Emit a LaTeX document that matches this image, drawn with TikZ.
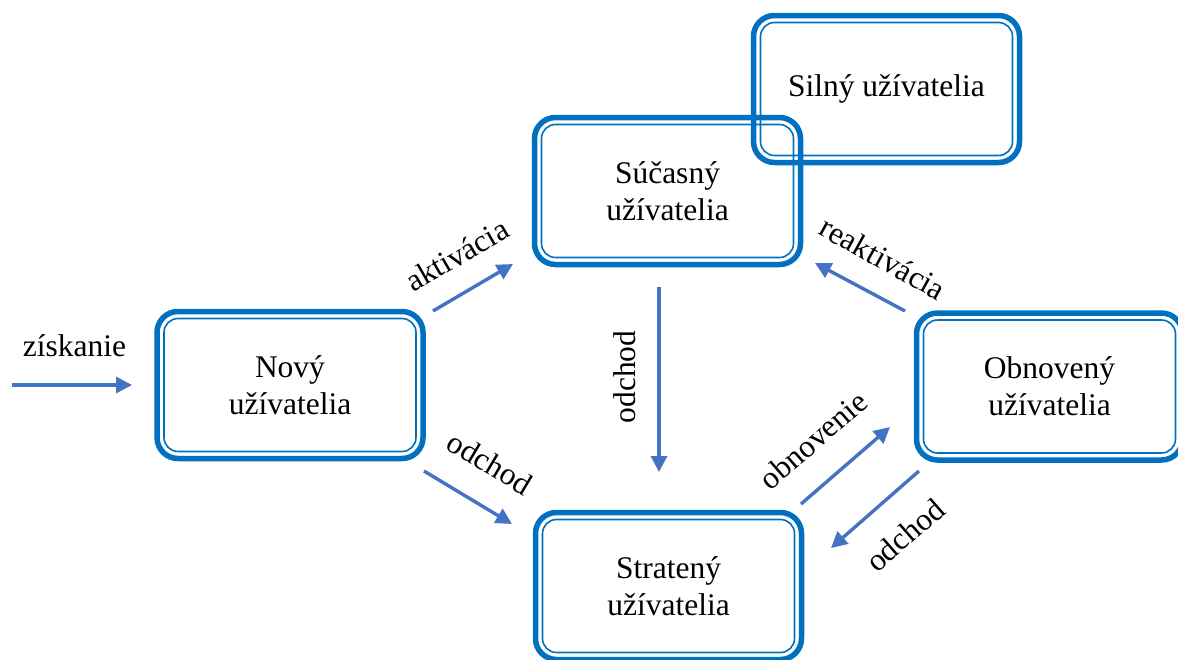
\documentclass[tikz,border=0pt]{standalone}
\usepackage{fontspec}
\setmainfont{Liberation Serif}
\usetikzlibrary{arrows.meta,calc}
\definecolor{boxblue}{HTML}{0070C0}
\definecolor{arrowblue}{HTML}{4472C4}
\tikzset{
  ubox/.style={draw=boxblue, line width=5.5pt, rounded corners=21pt,
    minimum width=266pt, minimum height=147pt, outer sep=0pt,
    align=center, font=\fontsize{31.5}{37}\selectfont},
  uinner/.style={draw=boxblue, line width=1.6pt, rounded corners=14pt},
  flow/.style={draw=arrowblue, line width=3.4pt,
    -{Triangle[length=16pt,width=16pt]}},
  lbl/.style={font=\fontsize{31.5}{37}\selectfont, inner sep=0pt}
}
% a user state: thick outline with a thin inner outline
\newcommand\userbox[3]{%
  \node[ubox] (#1) at (#2) {#3};
  \draw[uinner] ($(#1.south west)+(7pt,7pt)$) rectangle ($(#1.north east)+(-7pt,-7pt)$);
}
\begin{document}
\begin{tikzpicture}[x=1pt,y=-1pt]
\useasboundingbox (0,0) rectangle (1178,659);
\clip (0,0) rectangle (1178,659);

\userbox{silny}{886.5,89}{Silný užívatelia}
\userbox{sucasny}{667.5,191}{Súčasný\\užívatelia}
\userbox{novy}{290,385}{Nový\\užívatelia}
\userbox{strateny}{668.5,586}{Stratený\\užívatelia}
\userbox{obnoveny}{1049.5,386.5}{Obnovený\\užívatelia}

% arrow end points
\coordinate (inS) at (12,385);
\coordinate (inE) at (132,385);
\coordinate (akS) at (433,311);
\coordinate (akE) at (513,264);
\coordinate (o1S) at (424,471);
\coordinate (o1E) at (512,524);
\coordinate (o2S) at (659,287);
\coordinate (o2E) at (659,472);
\coordinate (reS) at (905,311);
\coordinate (reE) at (815,263);
\coordinate (obS) at (801,504);
\coordinate (obE) at (890,427);
\coordinate (o3S) at (919,471);
\coordinate (o3E) at (831,548);

\draw[flow] (inS) -- (inE);
\draw[flow] (akS) -- (akE);
\draw[flow] (o1S) -- (o1E);
\draw[flow] (o2S) -- (o2E);
\draw[flow] (reS) -- (reE);
\draw[flow] (obS) -- (obE);
\draw[flow] (o3S) -- (o3E);

\node[lbl, anchor=base] (lzi) at (74.5,356) {získanie};
\node[lbl, rotate=30] (lak) at (457,255) {aktivácia};
\node[lbl, rotate=-31] (lo1) at (490,463) {odchod};
\node[lbl, rotate=90] (lo2) at (625,377) {odchod};
\node[lbl, rotate=-29] (lre) at (883,258) {reaktivácia};
\node[lbl, rotate=41] (lob) at (813,440) {obnovenie};
\node[lbl, rotate=41] (lo3) at (905,535) {odchod};
\end{tikzpicture}
\end{document}
